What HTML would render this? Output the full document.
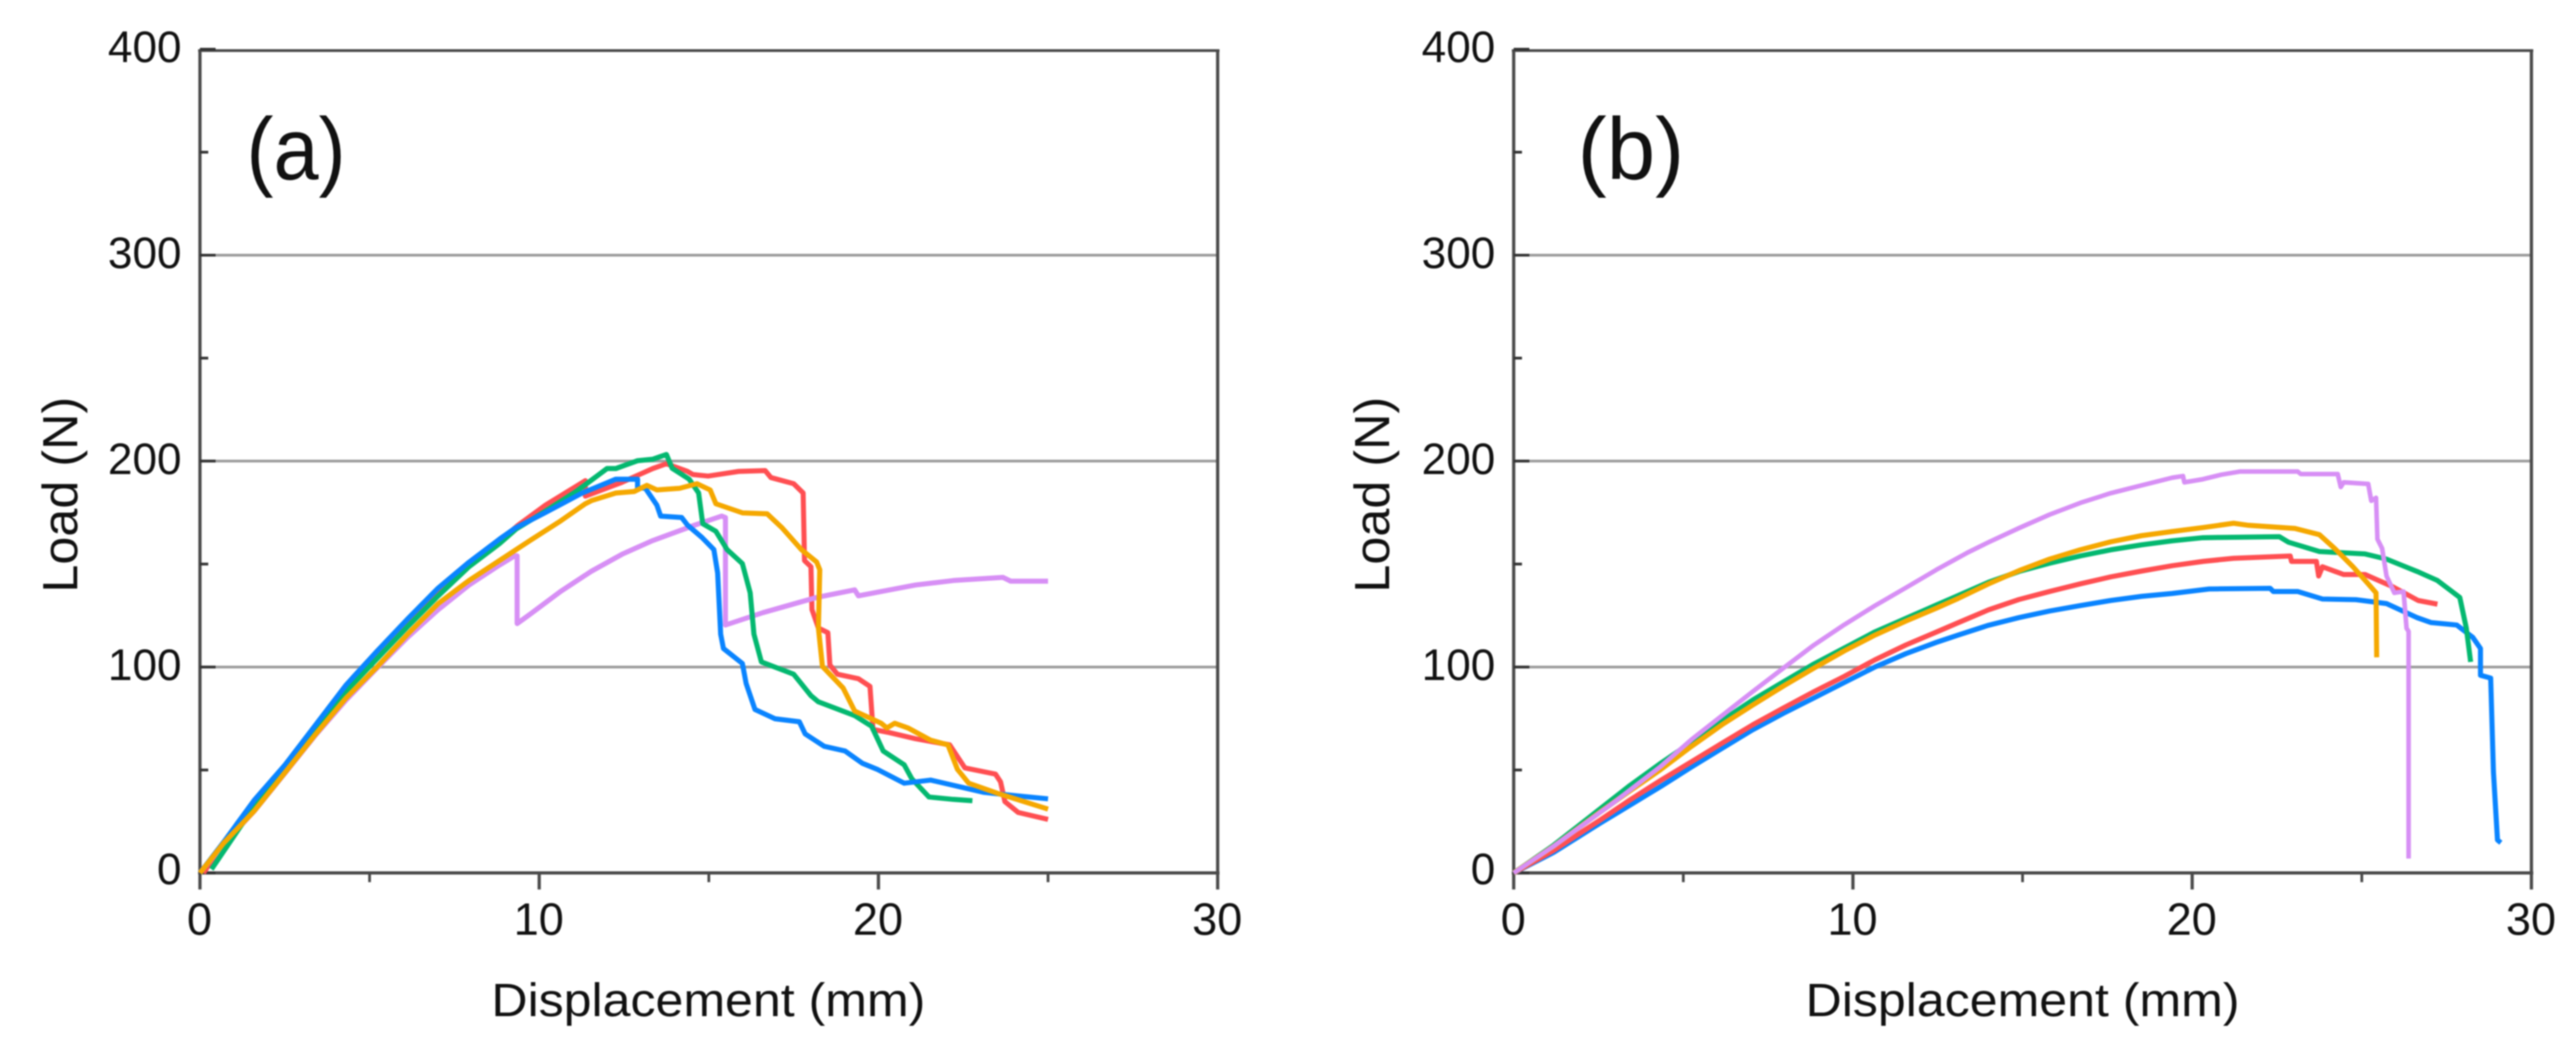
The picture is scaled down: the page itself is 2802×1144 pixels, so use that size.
<!DOCTYPE html>
<html lang="en">
<head>
<meta charset="utf-8">
<title>Load vs Displacement</title>
<style>
html,body{margin:0;padding:0;background:#fff;width:2802px;height:1144px;overflow:hidden}
svg{display:block;filter:blur(0.8px)}
text{font-family:"Liberation Sans",sans-serif;fill:#111}
</style>
</head>
<body>
<svg id="figure" xmlns="http://www.w3.org/2000/svg" width="2802" height="1144" viewBox="0 0 2802 1144">
  <rect x="0" y="0" width="2802" height="1144" fill="#ffffff"/>
  <g id="panel-a"></g>
  <g id="panel-b"></g>
  <text x="268" y="195" font-size="96" textLength="108" lengthAdjust="spacingAndGlyphs">(a)</text>
  <text x="1716" y="195" font-size="96" textLength="116" lengthAdjust="spacingAndGlyphs">(b)</text>
  <text x="770.5" y="1105" font-size="51" text-anchor="middle" textLength="472" lengthAdjust="spacingAndGlyphs">Displacement (mm)</text>
  <text x="2200" y="1105" font-size="51" text-anchor="middle" textLength="472" lengthAdjust="spacingAndGlyphs">Displacement (mm)</text>
  <text transform="translate(84 538) rotate(-90)" font-size="54" text-anchor="middle" textLength="213" lengthAdjust="spacingAndGlyphs">Load (N)</text>
  <text transform="translate(1511 538) rotate(-90)" font-size="54" text-anchor="middle" textLength="213" lengthAdjust="spacingAndGlyphs">Load (N)</text>
</svg>
<script>
var xTickValues = [0, 10, 20, 30];
var xMinorTickValues = [5, 15, 25];
var yTickValues = [0, 100, 200, 300, 400];
var yMinorTickValues = [50, 150, 250, 350];
var xLimits = [0, 30];
var yLimits = [0, 400];

var aPurpleX = [0,0.7,1.6,2.51,3.41,4.31,5.22,6.12,7.02,7.93,8.83,9.28,9.35,9.35,9.73,10.64,11.54,12.44,13.35,14.59,15.38,15.49,15.49,16.6,18.18,19.3,19.41,21.09,22.21,23.67,23.9,25];
var aPurpleY = [0,14,30,48.5,67,84,99.5,114.4,127.8,139.8,149.5,154,154,121.1,125.6,136.8,146.5,154.7,161.4,168.9,173.3,172.6,120.4,126.4,133.8,137.5,134.6,139.8,142,143.5,141.7,141.7];
var aRedX = [0.1,0.7,1.6,2.51,3.41,4.31,5.22,6.12,7.02,7.93,8.83,9.37,10.18,11.36,11.36,12.44,13.35,13.75,14.37,14.53,14.98,15.88,16.66,16.83,17.5,17.78,17.82,18.01,18.04,18.23,18.51,18.57,18.79,19.41,19.75,19.84,20.31,21.09,22.1,22.55,23.45,23.6,23.73,24.12,25];
var aRedY = [0,14,32.5,51,70,89,105,121,136,149.5,161,168.8,178.5,190.5,183,189.7,196.4,198.7,195,193.5,192.7,195,195.4,192,189,184.5,151.7,148.7,127.9,118.9,116.7,101,96.5,94.3,90.6,69.7,68.2,65.2,62.2,51,48,44.3,34.6,29.4,26];
var aGreenX = [0.34,1.6,2.51,3.41,4.31,5.22,6.12,7.02,7.93,8.83,9.32,10.18,11.09,12,12.26,12.9,13.35,13.75,13.92,14.42,14.7,14.82,15.21,15.54,15.99,16.22,16.33,16.55,17.5,18.01,18.23,19.3,19.8,20.14,20.76,20.98,21.49,22.21,22.77];
var aGreenY = [1.8,32.4,50.3,69.7,88.3,104,119.6,134.5,148.7,159.9,167,175.6,185.2,196.4,196.4,200.2,200.9,203.2,196.5,191.2,184.5,169.6,165.9,157,150.2,136,115.9,102.5,96.5,86.1,83.1,76.4,71.2,59.2,52.5,45.8,36.9,35.7,35.1];
var aBlueX = [0,0.7,1.6,2.51,3.41,4.31,5.22,6.12,7.02,7.93,8.83,9.28,10.18,11.27,12.26,12.9,12.9,13.13,13.47,13.58,14.2,14.37,14.8,15.15,15.26,15.35,15.43,15.99,16.1,16.36,16.95,17.67,17.84,18.4,19.02,19.52,19.97,20.76,21.54,23.11,24,25];
var aBlueY = [0,15,35.3,52.5,71.9,91.3,107.7,123.3,138.3,150.9,162.1,167.3,175,184.5,191.2,191.2,187,186.8,178.6,173.3,172.6,168.9,162.9,157,145.7,115.9,109,101.7,92,79.4,74.9,73.4,67.5,61.5,59.2,53.3,50.3,43.6,45.1,39.1,37.6,36];
var aOrangeX = [0,0.7,1.6,2.51,3.41,4.31,5.22,6.12,7.02,7.93,8.83,9.73,10.64,11.36,11.54,12.26,12.8,13.17,13.47,14.14,14.65,15.04,15.21,16,16.72,17.17,17.73,18.18,18.27,18.23,18.35,18.96,19.3,20.08,20.25,20.48,20.87,21.54,22.05,22.33,22.66,23.56,25];
var aOrangeY = [0,14.5,30.1,48.8,67.4,85,100,115.9,130.8,142,151.7,161.4,171,179.3,180.8,184.5,185.2,188.2,186,186.8,189,186,179.3,174.8,174.4,167.4,157,151,147.2,118.9,100.3,89.8,78.6,72.7,70.4,72.7,70.4,64.5,62.2,50.3,43.6,38.4,31];

var bBlueX = [0,1.18,2.53,4.34,5.24,6.14,7.04,7.95,8.85,9.75,10.65,11.56,12.46,13.1,14,14.9,15.8,16.7,17.6,18.51,19.41,20.5,22.3,22.39,23.11,23.84,24.83,25.73,26.63,27.04,27.8,28.27,28.5,28.5,28.8,28.88,29,29.1];
var bBlueY = [0,10,24,42,51.5,60.5,69.5,77.5,85,92.5,100,106.5,112,115.5,120.3,124,127.2,129.8,132.3,134.3,135.7,137.9,138.2,136.7,136.7,133,132.7,130.8,124,121.6,120.4,114.4,109,96,94.6,49,16,14.7];
var bRedX = [0,1.18,2.53,3.43,4.34,5.24,6.14,7.04,7.95,8.85,9.75,10.65,11.56,12.46,13.1,14,14.9,15.8,16.7,17.6,18.51,19.41,20.32,21.22,22.89,22.93,23.66,23.73,23.84,24.47,25.1,25.91,26.66,27.23];
var bRedY = [0,11,25.5,35.5,45,54,63,71.9,80.1,88,95.5,103.5,110.7,117,121.5,127.8,132.8,136.7,140.4,143.8,146.6,149.2,151.3,152.8,153.9,151.3,151.3,144.2,148.7,144.9,144.9,139,132.3,130.5];
var bGreenX = [0,1.18,2.53,3.43,4.34,5.24,6.14,7.04,7.95,8.85,10.65,12.46,13.1,14,14.9,15.8,16.7,17.6,18.51,19.41,20.32,22.57,22.84,23.75,25.1,25.73,26.63,27.23,27.89,28.08,28.21];
var bGreenY = [0,13.5,30.9,42.5,53.3,63.5,74,83.9,92.8,101.5,117.1,130.1,134.7,141.2,146.4,150.4,153.9,156.9,159.3,161.3,162.8,163.3,160.6,156.1,154.9,152.4,146.4,142,133.8,118.9,102.5];
var bPurpleX = [0,1.18,2.98,4.34,5.24,6.14,7.04,7.95,8.85,9.75,10.65,11.56,12.46,13.36,14,14.9,15.8,16.7,17.6,18.51,19.41,19.73,19.77,20.32,20.86,21.4,23.11,23.2,24.29,24.38,24.47,25.19,25.28,25.42,25.46,25.6,25.73,25.96,26.23,26.32,26.38,26.38];
var bPurpleY = [0,13,34.6,51.8,64.8,76.4,88,99.5,110.7,120.6,129.8,138.5,147.2,155.4,160.6,167.5,174,179.7,184.4,188.2,191.9,192.7,189.7,191.2,193.4,194.9,194.9,193.7,193.7,187.4,189.7,188.9,180.7,182.2,162.1,157.6,144.2,136,136.7,118.8,117.3,7];
var bOrangeX = [0,1.18,2.53,3.43,4.34,5.24,6.14,7.04,7.95,8.85,9.75,10.65,11.56,12.46,13.1,14,14.9,15.8,16.7,17.6,18.51,19.41,20.32,21.22,21.67,23.02,23.75,24.2,24.74,25.19,25.42,25.44];
var bOrangeY = [0,13,29.4,39.9,50.3,61.5,72,81.5,90.8,99.5,107.9,115.5,122.3,128.6,133.3,140.4,146.8,152.4,156.9,160.8,163.8,165.8,167.7,169.8,168.8,167.3,164.3,157.6,148.7,140.4,136,104.7];

var NS = 'http://www.w3.org/2000/svg';
var AXIS_COLOR = '#4a4a4a';
var GRID_COLOR = '#9c9c9c';
var COLORS = { red: '#ff4f52', green: '#04b870', blue: '#0a84ff', orange: '#f5a800', purple: '#d78ff5' };

function scale(domain, range) {
  return function (v) {
    return range[0] + (v - domain[0]) / (domain[1] - domain[0]) * (range[1] - range[0]);
  };
}

function drawLine(parent, x1, y1, x2, y2, color, width, name) {
  var el = document.createElementNS(NS, 'line');
  el.setAttribute('x1', x1);
  el.setAttribute('y1', y1);
  el.setAttribute('x2', x2);
  el.setAttribute('y2', y2);
  el.setAttribute('stroke', color);
  el.setAttribute('stroke-width', width);
  
  
  parent.appendChild(el);
}

function drawLabel(parent, x, y, size, content, anchor, name) {
  var el = document.createElementNS(NS, 'text');
  el.setAttribute('x', x);
  el.setAttribute('y', y);
  el.setAttribute('font-size', size);
  el.setAttribute('text-anchor', anchor);
  el.textContent = content;
  
  
  parent.appendChild(el);
}

function drawSeries(parent, xs, ys, sx, sy, color, width, name) {
  var pts = [];
  for (var i = 0; i < xs.length; i++) {
    pts.push(sx(xs[i]).toFixed(1) + ',' + sy(ys[i]).toFixed(1));
  }
  var el = document.createElementNS(NS, 'polyline');
  el.setAttribute('points', pts.join(' '));
  el.setAttribute('fill', 'none');
  el.setAttribute('stroke', color);
  el.setAttribute('stroke-width', width);
  el.setAttribute('stroke-linejoin', 'round');
  
  
  parent.appendChild(el);
}

function drawAxes(parent, sx, sy, prefix) {
  var L = sx(xLimits[0]), R = sx(xLimits[1]), B = sy(yLimits[0]), T = sy(yLimits[1]) + 1.5;
  yTickValues.forEach(function (v) {
    if (v !== yLimits[0] && v !== yLimits[1]) {
      drawLine(parent, L, sy(v), R, sy(v), GRID_COLOR, 3, prefix + '-gridline-' + v);
    }
  });
  drawLine(parent, L - 2, T, R + 2, T, AXIS_COLOR, 3, prefix + '-top-border');
  drawLine(parent, R, T, R, B, AXIS_COLOR, 3.5, prefix + '-right-border');
  drawLine(parent, L - 2, B, R + 2, B, AXIS_COLOR, 3.5, prefix + '-x-axis');
  drawLine(parent, L, T, L, B, AXIS_COLOR, 3.5, prefix + '-y-axis');
  xTickValues.forEach(function (v) {
    drawLine(parent, sx(v), B, sx(v), B + 18, AXIS_COLOR, 3.5, prefix + '-x-tick-' + v);
    drawLabel(parent, sx(v) - 0.5, B + 67, '49', String(v), 'middle', prefix + '-x-tick-label-' + v);
  });
  xMinorTickValues.forEach(function (v) {
    drawLine(parent, sx(v), B, sx(v), B + 10, AXIS_COLOR, 3, prefix + '-x-minor-tick-' + v);
  });
  yTickValues.forEach(function (v) {
    drawLine(parent, L, sy(v), L + 17, sy(v), '#333333', 3, prefix + '-y-tick-' + v);
    drawLabel(parent, L - 20, sy(v) + (v === 0 ? 12 : 14), '48', String(v), 'end', prefix + '-y-tick-label-' + v);
  });
  yMinorTickValues.forEach(function (v) {
    drawLine(parent, L, sy(v), L + 9, sy(v), '#333333', 3, prefix + '-y-minor-tick-' + v);
  });
}

var aScaleX = scale(xLimits, [217.5, 1324.5]);
var aScaleY = scale(yLimits, [949.3, 53.5]);
var bScaleX = scale(xLimits, [1646.5, 2753.5]);
var bScaleY = scale(yLimits, [949.3, 53.5]);

var panelA = document.getElementById('panel-a');
var panelB = document.getElementById('panel-b');

drawAxes(panelA, aScaleX, aScaleY, 'panel-a');
drawSeries(panelA, aRedX, aRedY, aScaleX, aScaleY, COLORS.red, 5.5, 'panel-a-series-red');
drawSeries(panelA, aPurpleX, aPurpleY, aScaleX, aScaleY, COLORS.purple, 5.5, 'panel-a-series-purple');
drawSeries(panelA, aGreenX, aGreenY, aScaleX, aScaleY, COLORS.green, 5.5, 'panel-a-series-green');
drawSeries(panelA, aBlueX, aBlueY, aScaleX, aScaleY, COLORS.blue, 5.5, 'panel-a-series-blue');
drawSeries(panelA, aOrangeX, aOrangeY, aScaleX, aScaleY, COLORS.orange, 5.5, 'panel-a-series-orange');

drawAxes(panelB, bScaleX, bScaleY, 'panel-b');
drawSeries(panelB, bBlueX, bBlueY, bScaleX, bScaleY, COLORS.blue, 5.5, 'panel-b-series-blue');
drawSeries(panelB, bRedX, bRedY, bScaleX, bScaleY, COLORS.red, 5.5, 'panel-b-series-red');
drawSeries(panelB, bGreenX, bGreenY, bScaleX, bScaleY, COLORS.green, 5.5, 'panel-b-series-green');
drawSeries(panelB, bOrangeX, bOrangeY, bScaleX, bScaleY, COLORS.orange, 5.5, 'panel-b-series-orange');
drawSeries(panelB, bPurpleX, bPurpleY, bScaleX, bScaleY, COLORS.purple, 5, 'panel-b-series-purple');
</script>
</body>
</html>
